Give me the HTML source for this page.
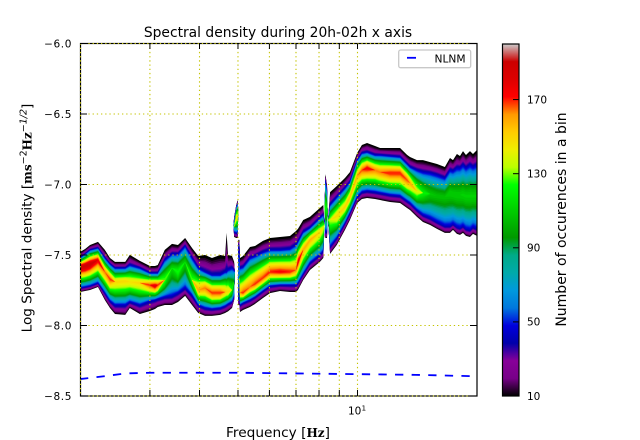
<!DOCTYPE html>
<html>
<head>
<meta charset="utf-8">
<title>Spectral density</title>
<style>
html,body{margin:0;padding:0;background:#fff;}
svg{display:block;}
text{font-family:"DejaVu Sans","Liberation Sans",sans-serif;fill:#000;}
.m{font-family:"DejaVu Serif","Liberation Serif",serif;font-weight:bold;}
</style>
</head>
<body>
<svg id="chart" xmlns="http://www.w3.org/2000/svg" width="640" height="440" viewBox="0 0 640 440">
  <defs>
    <clipPath id="plot-clip"><rect x="80" y="43.5" width="397" height="352.5"/></clipPath>
    <linearGradient id="cbar-grad" x1="0" y1="1" x2="0" y2="0"></linearGradient>
  </defs>
  <rect width="640" height="440" fill="#fff"/>
  <g id="bands" clip-path="url(#plot-clip)"></g>
  <g id="grid"></g>
  <g id="nlnm" clip-path="url(#plot-clip)"></g>
  <rect x="80.5" y="43.5" width="396.5" height="352.5" fill="none" stroke="#000" stroke-width="1.2"/>
  <g id="grid-edge"></g>
  <g id="ticks"></g>

  <text x="278" y="37" text-anchor="middle" font-size="13.85">Spectral density during 20h-02h x axis</text>
  <text x="278" y="437" text-anchor="middle" font-size="13.7">Frequency [<tspan class="m" font-size="12">Hz</tspan>]</text>
  <text transform="translate(31.5,218) rotate(-90)" text-anchor="middle" font-size="13.6">Log Spectral density [<tspan class="m" font-size="12">ms</tspan><tspan font-size="9.5" dy="-5">−2</tspan><tspan class="m" font-size="12" dy="5">Hz</tspan><tspan font-size="9.5" dy="-5" font-style="italic">−1/2</tspan><tspan dy="5">]</tspan></text>

  <g>
    <rect x="398.7" y="50" width="72" height="17.7" rx="2" fill="#fff" stroke="#c8c8c8" stroke-width="1.3"/>
    <line x1="407" y1="57.8" x2="416" y2="57.8" stroke="#0000ff" stroke-width="1.8"/>
    <text x="434.5" y="62.5" font-size="10.67">NLNM</text>
  </g>

  <g>
    <rect x="502.5" y="44" width="16.5" height="352" fill="url(#cbar-grad)" stroke="#000" stroke-width="1.2"/>
    <g id="cbar-ticks"></g>
    <text transform="translate(566,219.5) rotate(-90)" text-anchor="middle" font-size="14">Number of occurences in a bin</text>
  </g>
</svg>

<script>
// ---- axis tick data ----
var yTicks = [-6.0, -6.5, -7.0, -7.5, -8.0, -8.5];
var xGridTicks = [3, 4, 5, 6, 7, 8, 9, 10];
var colorbarTicks = [10, 50, 90, 130, 170];

// ---- density band: main ridge ----
var freqs = [2.00,2.06,2.12,2.22,2.31,2.38,2.45,2.60,2.67,2.83,3.00,3.09,3.14,3.27,3.41,3.53,3.68,3.83,3.97,4.13,4.30,4.51,4.64,4.68,4.72,4.83,4.89,4.91,5.00,5.01,5.04,5.06,5.15,5.36,5.52,5.78,6.02,6.38,6.76,7.00,7.08,7.30,7.59,8.04,8.20,8.26,8.43,8.53,8.87,9.30,9.57,9.98,10.26,10.57,11.07,11.40,12.08,12.80,13.33,13.56,14.12,14.62,15.24,15.86,16.60,17.10,17.40,17.80,18.12,18.44,18.76,19.20,19.54,20.00];
// outer edge of the occupied bins
var upperEdge = [-7.479,-7.457,-7.429,-7.407,-7.464,-7.521,-7.549,-7.549,-7.499,-7.542,-7.578,-7.578,-7.571,-7.464,-7.421,-7.429,-7.379,-7.450,-7.507,-7.500,-7.521,-7.500,-7.507,-7.343,-7.500,-7.507,-7.549,-7.620,-7.660,-7.393,-7.393,-7.521,-7.507,-7.443,-7.436,-7.400,-7.379,-7.372,-7.365,-7.330,-7.315,-7.252,-7.230,-7.167,-7.145,-7.287,-7.252,-7.054,-7.011,-6.954,-6.912,-6.777,-6.720,-6.706,-6.727,-6.741,-6.741,-6.741,-6.790,-6.805,-6.827,-6.827,-6.841,-6.855,-6.876,-6.812,-6.827,-6.784,-6.798,-6.763,-6.791,-6.763,-6.784,-6.755];
var lowerEdge = [-7.762,-7.755,-7.748,-7.727,-7.819,-7.876,-7.918,-7.925,-7.876,-7.918,-7.897,-7.883,-7.869,-7.855,-7.855,-7.833,-7.790,-7.855,-7.911,-7.932,-7.932,-7.925,-7.911,-7.905,-7.900,-7.876,-7.819,-7.620,-7.660,-7.855,-7.855,-7.904,-7.890,-7.869,-7.847,-7.805,-7.770,-7.755,-7.762,-7.762,-7.748,-7.677,-7.606,-7.549,-7.521,-7.287,-7.252,-7.492,-7.428,-7.322,-7.252,-7.131,-7.103,-7.096,-7.103,-7.110,-7.124,-7.131,-7.167,-7.181,-7.230,-7.266,-7.287,-7.315,-7.343,-7.343,-7.322,-7.350,-7.357,-7.343,-7.364,-7.372,-7.350,-7.364];
// contour of the count level 45 (purple to blue transition)
var upperMid = [-7.521,-7.493,-7.464,-7.450,-7.521,-7.564,-7.592,-7.592,-7.571,-7.592,-7.628,-7.628,-7.628,-7.535,-7.493,-7.493,-7.436,-7.521,-7.592,-7.620,-7.642,-7.642,-7.620,-7.620,-7.606,-7.592,-7.606,-7.620,-7.660,-7.429,-7.429,-7.592,-7.585,-7.521,-7.507,-7.479,-7.464,-7.464,-7.457,-7.429,-7.407,-7.337,-7.308,-7.238,-7.216,-7.287,-7.252,-7.145,-7.089,-7.025,-6.982,-6.827,-6.777,-6.770,-6.791,-6.791,-6.798,-6.805,-6.855,-6.876,-6.898,-6.912,-6.919,-6.933,-6.954,-6.898,-6.904,-6.883,-6.883,-6.862,-6.883,-6.862,-6.876,-6.862];
var lowerMid = [-7.734,-7.727,-7.720,-7.699,-7.769,-7.826,-7.855,-7.855,-7.833,-7.855,-7.826,-7.819,-7.812,-7.798,-7.791,-7.769,-7.734,-7.784,-7.855,-7.876,-7.883,-7.876,-7.862,-7.855,-7.847,-7.833,-7.798,-7.620,-7.660,-7.819,-7.819,-7.855,-7.840,-7.819,-7.798,-7.755,-7.720,-7.713,-7.713,-7.713,-7.699,-7.635,-7.557,-7.500,-7.472,-7.287,-7.252,-7.443,-7.379,-7.273,-7.202,-7.089,-7.053,-7.046,-7.053,-7.060,-7.074,-7.081,-7.117,-7.131,-7.181,-7.216,-7.238,-7.266,-7.294,-7.294,-7.280,-7.301,-7.308,-7.294,-7.315,-7.322,-7.301,-7.315];
var ridgeCenter = [-7.585,-7.578,-7.564,-7.535,-7.620,-7.670,-7.691,-7.684,-7.691,-7.698,-7.713,-7.720,-7.713,-7.677,-7.592,-7.620,-7.549,-7.677,-7.748,-7.734,-7.769,-7.769,-7.762,-7.762,-7.762,-7.748,-7.691,-7.620,-7.660,-7.660,-7.660,-7.769,-7.769,-7.727,-7.706,-7.663,-7.620,-7.620,-7.620,-7.606,-7.549,-7.464,-7.393,-7.337,-7.308,-7.287,-7.252,-7.252,-7.223,-7.160,-7.089,-6.940,-6.898,-6.884,-6.898,-6.912,-6.919,-6.919,-6.968,-6.989,-7.050,-7.060,-7.067,-7.082,-7.089,-7.060,-7.067,-7.074,-7.074,-7.074,-7.082,-7.082,-7.082,-7.082];
var ridgePeak = [190,192,190,178,165,170,150,150,148,150,170,180,170,130,115,125,112,130,160,165,170,170,155,150,150,125,100,10,10,60,60,160,170,165,170,170,172,175,172,165,178,160,158,150,140,10,10,135,150,152,155,160,168,175,165,165,172,172,168,160,140,122,110,108,108,112,112,112,112,113,113,113,113,113];

// ---- density band: narrow spectral spikes ----
var spikeFreqs = [4.87,4.89,4.95,4.99,5.01,8.26,8.30,8.38,8.41];
var spikeUpper = [-7.287,-7.230,-7.145,-7.110,-7.170,-7.181,-6.926,-7.003,-7.100];
var spikeLower = [-7.287,-7.372,-7.379,-7.379,-7.200,-7.181,-7.379,-7.379,-7.300];
var spikeUpperMid = [-7.287,-7.252,-7.160,-7.131,-7.175,-7.181,-6.968,-7.039,-7.120];
var spikeLowerMid = [-7.287,-7.337,-7.344,-7.344,-7.195,-7.181,-7.337,-7.337,-7.280];
var spikeCenter = [-7.287,-7.301,-7.230,-7.230,-7.185,-7.181,-7.160,-7.181,-7.200];
var spikePeak = [10,90,150,140,10,10,125,125,10];

// ---- NLNM reference curve ----
var nlnmFreqs = [2.00,2.30,2.60,3.00,4.00,5.00,7.00,10.00,14.00,20.00];
var nlnmValues = [-8.38,-8.36,-8.34,-8.335,-8.335,-8.335,-8.34,-8.345,-8.35,-8.36];

// ---- colormap (value fraction and rgb channels) ----
var cmapPos = [0,.05,.10,.15,.20,.25,.30,.35,.40,.45,.50,.55,.60,.65,.70,.75,.80,.85,.90,.95,1];
var cmapR = [0,.4667,.5333,0,0,0,0,0,0,0,0,0,0,.7333,.9333,1,1,1,.8667,.8,.8];
var cmapG = [0,0,0,0,0,.4667,.6,.6667,.6667,.6,.7333,.8667,1,1,.9333,.8,.6,0,0,0,.8];
var cmapB = [0,.5333,.6,.6667,.8667,.8667,.8667,.6667,.5333,0,0,0,0,0,0,0,0,0,0,0,.8];

var NS = 'http://www.w3.org/2000/svg';
var X_LEFT = 80, DECADE = 397, Y_TOP = 43.5, Y_UNIT = 141;
var CB_BOTTOM = 396, CB_TOP = 44, V_MIN = 10, V_MAX = 200, MID_LEVEL = 45;

function xScale(f) { return X_LEFT + DECADE * (Math.log(f / 2) / Math.LN10); }
function yScale(v) { return Y_TOP + (-6 - v) * Y_UNIT; }
function cbScale(v) { return CB_BOTTOM - (v - V_MIN) / (V_MAX - V_MIN) * (CB_BOTTOM - CB_TOP); }

function make(tag, attrs, parent) {
  var el = document.createElementNS(NS, tag);
  for (var k in attrs) el.setAttribute(k, attrs[k]);
  parent.appendChild(el);
  return el;
}

function cmap(t) {
  t = Math.max(0, Math.min(1, t));
  for (var i = 0; i < cmapPos.length - 1; i++) {
    if (t <= cmapPos[i + 1]) {
      var u = (t - cmapPos[i]) / (cmapPos[i + 1] - cmapPos[i]);
      var r = cmapR[i] + (cmapR[i + 1] - cmapR[i]) * u;
      var g = cmapG[i] + (cmapG[i + 1] - cmapG[i]) * u;
      var b = cmapB[i] + (cmapB[i + 1] - cmapB[i]) * u;
      return 'rgb(' + Math.round(r * 255) + ',' + Math.round(g * 255) + ',' + Math.round(b * 255) + ')';
    }
  }
  return 'rgb(204,204,204)';
}

// value on one side of the ridge where a column with this peak reaches a count level
function contour(level, edge, mid, center, peak, edgeGamma) {
  if (peak <= V_MIN || level >= peak) return center;
  if (level <= MID_LEVEL) {
    return edge + (mid - edge) * Math.pow((level - V_MIN) / (MID_LEVEL - V_MIN), edgeGamma);
  }
  var t = (level - MID_LEVEL) / (peak - MID_LEVEL);
  return center + (mid - center) * Math.pow(1 - t, 0.72);
}

function levelPoints(level, fs, up, upM, lo, loM, ce, pk) {
  var topSide = [], botSide = [];
  for (var i = 0; i < fs.length; i++) {
    var x = xScale(fs[i]).toFixed(2);
    topSide.push(x + ',' + yScale(contour(level, up[i], upM[i], ce[i], pk[i], 0.7)).toFixed(2));
    botSide.unshift(x + ',' + yScale(contour(level, lo[i], loM[i], ce[i], pk[i], 1)).toFixed(2));
  }
  return topSide.concat(botSide).join(' ');
}

var bands = document.getElementById('bands');
for (var lev = 10; lev <= 198; lev += 3) {
  var fill = cmap((lev - V_MIN) / (V_MAX - V_MIN));
  var p1 = make('polygon', {points: levelPoints(lev, freqs, upperEdge, upperMid, lowerEdge, lowerMid, ridgeCenter, ridgePeak), fill: fill}, bands);
  
  
  var p2 = make('polygon', {points: levelPoints(lev, spikeFreqs, spikeUpper, spikeUpperMid, spikeLower, spikeLowerMid, spikeCenter, spikePeak), fill: fill}, bands);
  
  
}

// grid
var grid = document.getElementById('grid');
var gridEdge = document.getElementById('grid-edge');
var GRID = {stroke: '#c4c400', 'stroke-width': 1.1, 'stroke-dasharray': '1.3 2.9'};
function gridLine(x1, y1, x2, y2, parent) {
  var a = {x1: x1, y1: y1, x2: x2, y2: y2};
  for (var k in GRID) a[k] = GRID[k];
  return make('line', a, parent);
}
yTicks.forEach(function (v) {
  var y = yScale(v);
  var l = gridLine(80, y, 477, y, (v === -6 || v === -8.5) ? gridEdge : grid);
  
  
});
xGridTicks.forEach(function (f) {
  var x = xScale(f);
  var l = gridLine(x, 43.5, x, 396, grid);
  
  
});
var leftEdge = gridLine(80.5, 43.5, 80.5, 396, gridEdge);



// NLNM curve
var nlnmPts = nlnmFreqs.map(function (f, i) { return xScale(f).toFixed(2) + ',' + yScale(nlnmValues[i]).toFixed(2); }).join(' ');
var nlnmLine = make('polyline', {points: nlnmPts, fill: 'none', stroke: '#0000ff', 'stroke-width': 1.8, 'stroke-dasharray': '8.3 8.3'}, document.getElementById('nlnm'));



// ticks and tick labels
var ticks = document.getElementById('ticks');
function tick(x1, y1, x2, y2, parent) {
  return make('line', {x1: x1, y1: y1, x2: x2, y2: y2, stroke: '#000', 'stroke-width': 1}, parent);
}
yTicks.forEach(function (v) {
  var y = yScale(v);
  var t1 = tick(80, y, 87, y, ticks);
  
  
  var t2 = tick(470, y, 477, y, ticks);
  
  
  var lab = make('text', {x: 72, y: y + 3.8, 'text-anchor': 'end', 'font-size': 10.5, 'letter-spacing': 0.6}, ticks);
  
  
  lab.textContent = '\u2212' + Math.abs(v).toFixed(1);
});
xGridTicks.forEach(function (f) {
  var x = xScale(f);
  var t1 = tick(x, 396, x, 390, ticks);
  
  
  var t2 = tick(x, 43.5, x, 49, ticks);
  
  
});
var xLab = make('text', {x: 348, y: 414.5, 'font-size': 10.5}, ticks);


xLab.textContent = '10';
var xSup = make('text', {x: 361.5, y: 410.5, 'font-size': 7.3}, ticks);


xSup.textContent = '1';

// colorbar
var grad = document.getElementById('cbar-grad');
cmapPos.forEach(function (p, i) {
  var s = make('stop', {offset: p, 'stop-color': cmap(p)}, grad);
  
  
});
var cbTicks = document.getElementById('cbar-ticks');
colorbarTicks.forEach(function (v) {
  var y = cbScale(v);
  var t = tick(513, y, 519, y, cbTicks);
  
  
  var lab = make('text', {x: 527, y: y + 3.8, 'font-size': 10.5}, cbTicks);
  
  
  lab.textContent = String(v);
});
</script>
</body>
</html>
